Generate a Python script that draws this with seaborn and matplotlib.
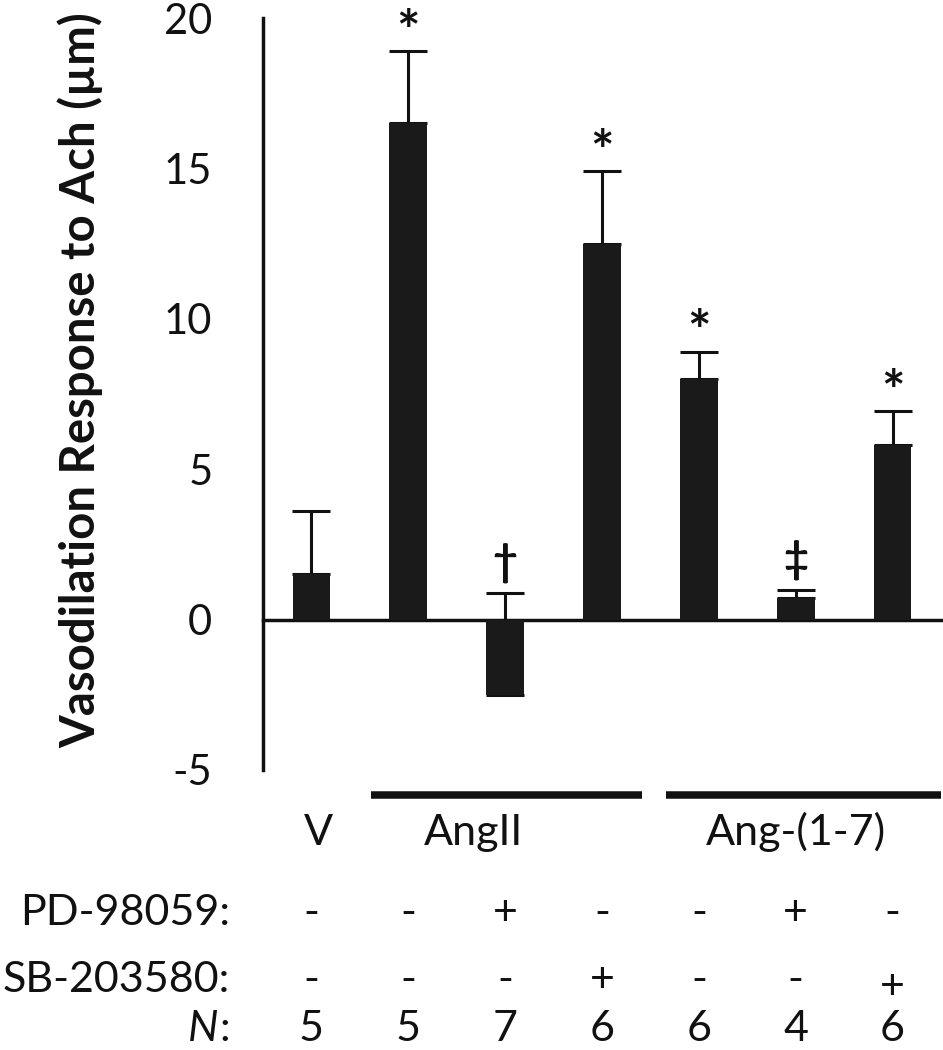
import matplotlib
matplotlib.use("Agg")
import matplotlib.pyplot as plt
import matplotlib.transforms as mtransforms
import seaborn as sns
import pandas as pd
import numpy as np

# ---- data ----
groups = ["V", "AngII", "AngII+PD", "AngII+SB", "Ang17", "Ang17+PD", "Ang17+SB"]
means = [1.5, 16.5, -2.5, 12.5, 8.0, 0.72, 5.8]
sem = [2.1, 2.4, 3.4, 2.4, 0.9, 0.28, 1.12]
marks = ["", "*", "\u2020", "*", "*", "\u2021", "*"]
pd_row = ["-", "-", "+", "-", "-", "+", "-"]
sb_row = ["-", "-", "-", "+", "-", "-", "+"]
n_row = ["5", "5", "7", "6", "6", "4", "6"]
yticks = [-5, 0, 5, 10, 15, 20]
ytick_labels = ["-5", "0", "5", "10", "15", "20"]

sns.set_style("white")
plt.rcParams["font.family"] = ["Lato", "DejaVu Sans"]

INK = "#111111"
W, H = 943, 1050
fig = plt.figure(figsize=(W / 100, H / 100), dpi=100)
ax = fig.add_axes([263 / W, 1 - 770 / H, (941 - 263) / W, (770 - 18) / H])

df = pd.DataFrame({"group": groups, "mean": means})
sns.barplot(data=df, x="group", y="mean", order=groups, color="#1a1a1a",
            saturation=1, width=0.39, errorbar=None, ax=ax, zorder=3,
            linewidth=0, edgecolor="#1a1a1a")

xs = np.arange(len(groups))
ax.errorbar(xs, means, yerr=[np.zeros(len(sem)), sem], fmt="none",
            ecolor=INK, elinewidth=2.2, capsize=13.5, capthick=2.2, zorder=2)

ax.set_xlim(-0.5, 6.5)
ax.set_ylim(-5, 20)

for s in ["top", "right"]:
    ax.spines[s].set_visible(False)
ax.spines["bottom"].set_position(("data", 0))
for s in ["left", "bottom"]:
    ax.spines[s].set_linewidth(2.5)
    ax.spines[s].set_color(INK)

ax.set_xticks(np.arange(0.5, 7, 1))
ax.set_xticklabels([])
ax.tick_params(axis="x", direction="out", length=10, width=2.5, color=INK)
ax.set_xlabel("")

ax.set_yticks(yticks)
ax.set_yticklabels(ytick_labels)
ax.tick_params(axis="y", direction="out", length=11.5, width=2.5, pad=25,
               labelsize=30, color=INK, labelcolor=INK)

ax.set_ylabel("Vasodilation Response to Ach (\u00b5m)", fontsize=34,
              fontweight="bold", color=INK)
ax.yaxis.set_label_coords(-0.236, 0.519)

# significance marks
for x, m, s, e in zip(xs, means, sem, marks):
    if not e:
        continue
    if e == "*":
        ax.text(x, m + s + 0.05, e, ha="center", va="baseline", fontsize=40,
                fontweight="bold", color=INK, zorder=4)
    else:
        ax.text(x, m + s + 1.0, e, ha="center", va="center", fontsize=31,
                fontweight="bold", color=INK, zorder=4)

# below-axis annotations
tr = mtransforms.blended_transform_factory(ax.transData, fig.transFigure)
def fy(px):
    return 1 - px / H

# group lines
ax.plot([0.62, 3.41], [fy(794.5)] * 2, transform=tr, color=INK, lw=5.4,
        solid_capstyle="butt", clip_on=False)
ax.plot([3.66, 6.5], [fy(794.5)] * 2, transform=tr, color=INK, lw=5.4,
        solid_capstyle="butt", clip_on=False)

FS = 31
ax.text(0.07, fy(845), "V", transform=tr, ha="center", va="baseline", fontsize=FS, color=INK)
ax.text(1.67, fy(845), "AngII", transform=tr, ha="center", va="baseline", fontsize=FS, color=INK)
ax.text(5.0, fy(845), "Ang-(1-7)", transform=tr, ha="center", va="baseline", fontsize=FS, color=INK)

fig.text(230 / W, fy(925), "PD-98059:", ha="right", va="baseline", fontsize=FS, color=INK)
fig.text(230 / W, fy(992), "SB-203580:", ha="right", va="baseline", fontsize=FS, color=INK)
nb = 1041
fig.text(230 / W, fy(nb), ":", ha="right", va="baseline", fontsize=FS, color=INK)
fig.text(230 / W - 0.012, fy(nb), "N", ha="right", va="baseline", fontsize=FS,
         fontstyle="italic", color=INK)

for i, (p, s, n) in enumerate(zip(pd_row, sb_row, n_row)):
    ax.text(i, fy(925), p, transform=tr, ha="center", va="baseline", fontsize=FS, color=INK)
    off = 7 if i == 6 and s == "+" else 0
    ax.text(i, fy(992 + off), s, transform=tr, ha="center", va="baseline", fontsize=FS, color=INK)
    ax.text(i, fy(nb), n, transform=tr, ha="center", va="baseline", fontsize=FS, color=INK)

fig.savefig("out.png", dpi=100)
